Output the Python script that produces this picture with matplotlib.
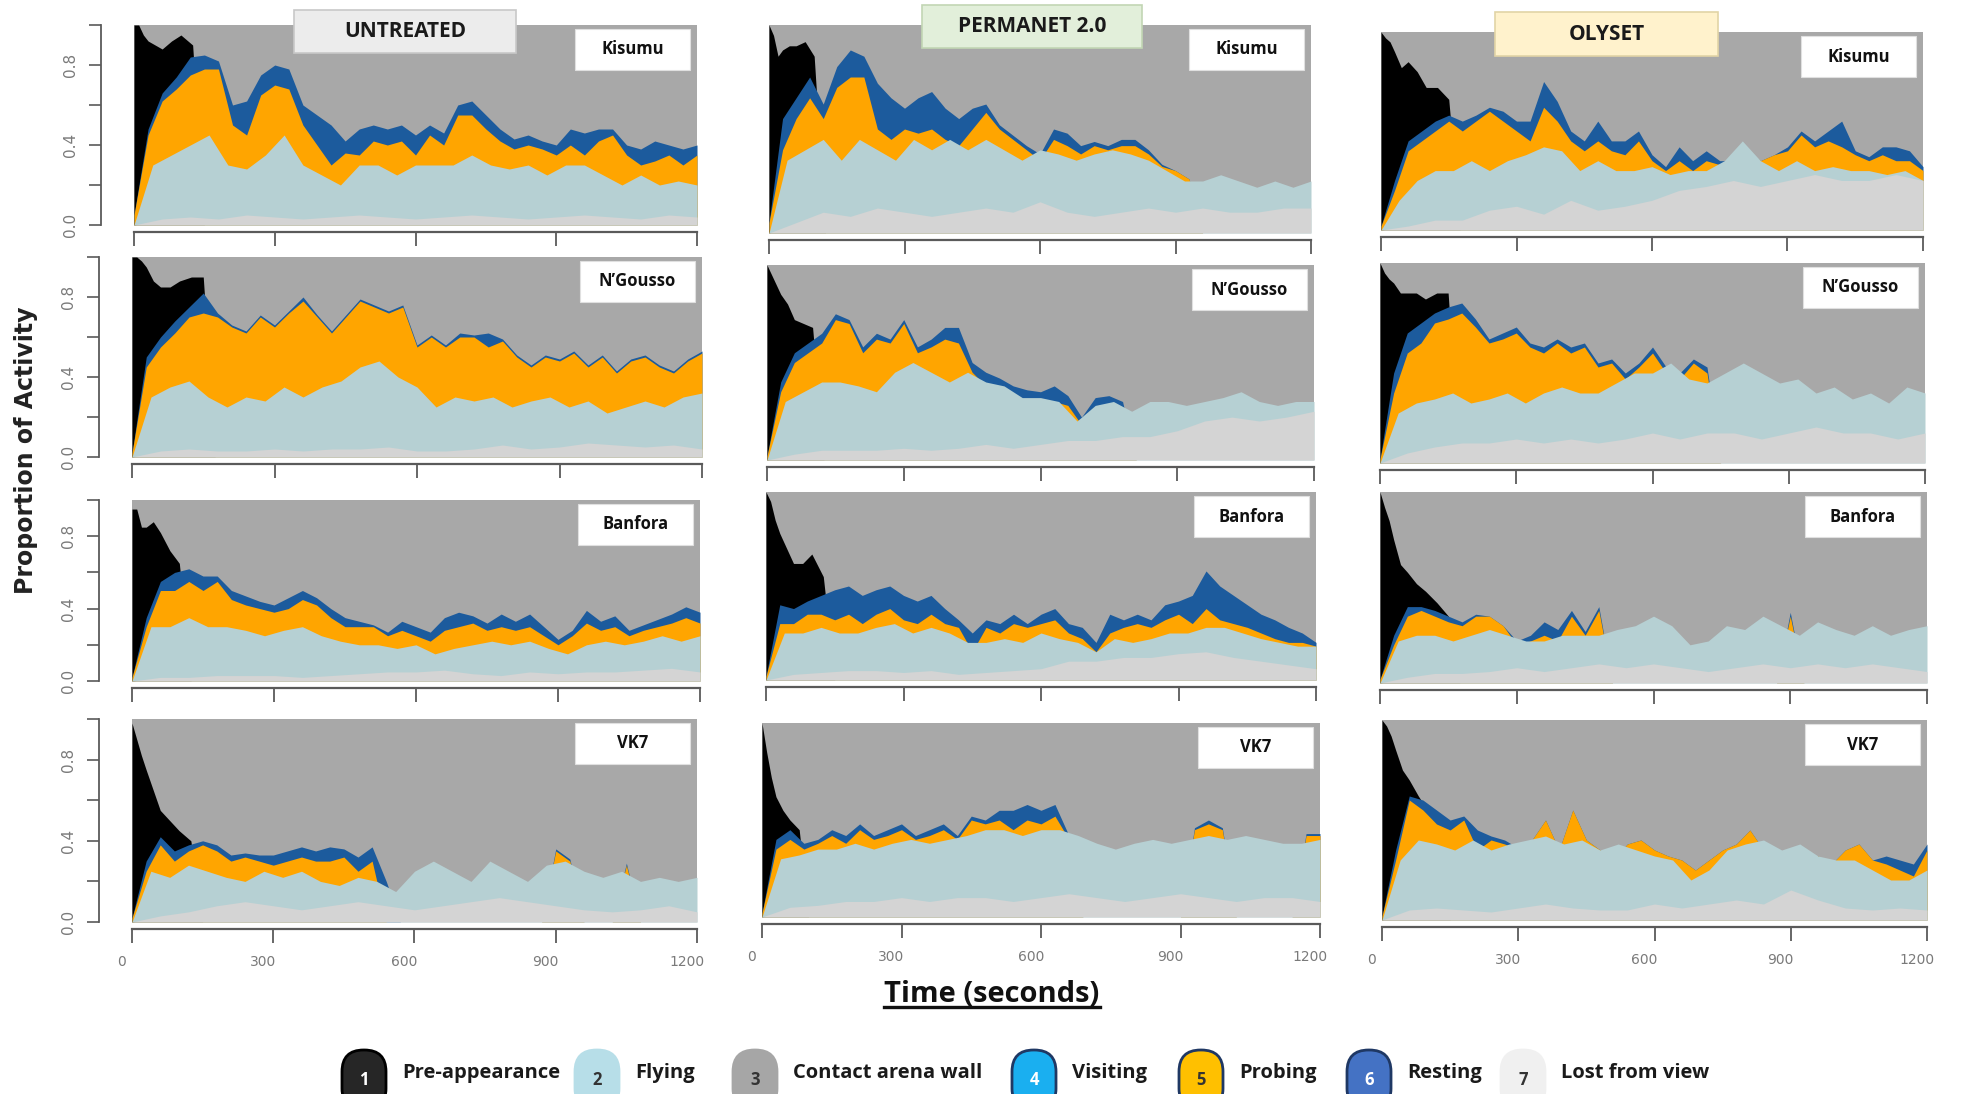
import numpy as np
import matplotlib
matplotlib.use("Agg")
import matplotlib.pyplot as plt
from matplotlib.patches import Rectangle, FancyBboxPatch
from matplotlib.lines import Line2D
from matplotlib.transforms import ScaledTranslation

# ---------------- time grids (seconds) ----------------
T_MAIN = np.arange(0, 1201, 30)   # probing / resting tops
T_FLY = np.arange(0, 1201, 40)    # flying top
T_LOST = np.arange(0, 1201, 60)   # lost-from-view top
T_PRE = [0, 10, 20, 30, 45, 60, 80, 100, 125, 150, 175, 200]  # pre-appearance top
time_ticks = [0, 300, 600, 900, 1200]

treatments = ["UNTREATED", "PERMANET 2.0", "OLYSET"]
strains = ["Kisumu", "N\u2019Gousso", "Banfora", "VK7"]
legend_labels = ["Pre-appearance", "Flying", "Contact arena wall", "Visiting",
                 "Probing", "Resting", "Lost from view"]

# cumulative upper edges of each behaviour band (proportion of mosquitoes)
# ---- UNTREATED ----
untreated_kisumu_pre = [1.0, 1.0, 0.95, 0.92, 0.9, 0.88, 0.92, 0.95, 0.9, 0.0, 0.0, 0.0]
untreated_kisumu_rest = [0.05, 0.48, 0.66, 0.74, 0.84, 0.85, 0.82, 0.6, 0.62, 0.75, 0.8, 0.78, 0.6, 0.55, 0.5, 0.42, 0.48, 0.5, 0.48, 0.5, 0.45, 0.5, 0.46, 0.6, 0.62, 0.55, 0.48, 0.43, 0.45, 0.42, 0.4, 0.48, 0.46, 0.48, 0.48, 0.4, 0.38, 0.42, 0.4, 0.38, 0.4]
untreated_kisumu_probe = [0.05, 0.45, 0.62, 0.68, 0.75, 0.78, 0.78, 0.5, 0.45, 0.65, 0.7, 0.68, 0.5, 0.4, 0.3, 0.36, 0.35, 0.42, 0.4, 0.42, 0.35, 0.45, 0.4, 0.55, 0.55, 0.48, 0.42, 0.38, 0.4, 0.38, 0.35, 0.4, 0.35, 0.42, 0.45, 0.35, 0.3, 0.32, 0.35, 0.3, 0.35]
untreated_kisumu_fly = [0, 0.3, 0.35, 0.4, 0.45, 0.3, 0.28, 0.35, 0.45, 0.3, 0.25, 0.2, 0.3, 0.3, 0.25, 0.3, 0.3, 0.3, 0.35, 0.3, 0.28, 0.3, 0.25, 0.3, 0.3, 0.25, 0.2, 0.25, 0.2, 0.22, 0.2]
untreated_kisumu_lost = [0, 0.03, 0.04, 0.03, 0.05, 0.04, 0.03, 0.04, 0.05, 0.04, 0.03, 0.04, 0.05, 0.04, 0.03, 0.04, 0.05, 0.04, 0.03, 0.05, 0.04]

untreated_ngousso_pre = [1.0, 1.0, 0.98, 0.95, 0.88, 0.85, 0.85, 0.88, 0.9, 0.9, 0.0, 0.0]
untreated_ngousso_rest = [0.02, 0.5, 0.6, 0.68, 0.75, 0.82, 0.72, 0.66, 0.63, 0.71, 0.66, 0.73, 0.8, 0.71, 0.63, 0.71, 0.79, 0.76, 0.73, 0.76, 0.56, 0.61, 0.56, 0.62, 0.61, 0.62, 0.59, 0.51, 0.46, 0.51, 0.49, 0.53, 0.46, 0.51, 0.43, 0.49, 0.51, 0.46, 0.43, 0.49, 0.53]
untreated_ngousso_probe = [0.02, 0.45, 0.55, 0.62, 0.7, 0.72, 0.7, 0.65, 0.62, 0.7, 0.65, 0.72, 0.78, 0.7, 0.62, 0.7, 0.78, 0.75, 0.72, 0.75, 0.55, 0.6, 0.55, 0.6, 0.6, 0.55, 0.58, 0.5, 0.45, 0.5, 0.48, 0.52, 0.45, 0.5, 0.42, 0.48, 0.5, 0.45, 0.42, 0.48, 0.52]
untreated_ngousso_fly = [0, 0.3, 0.35, 0.38, 0.3, 0.25, 0.3, 0.28, 0.35, 0.3, 0.35, 0.38, 0.45, 0.48, 0.4, 0.35, 0.25, 0.3, 0.28, 0.3, 0.25, 0.28, 0.3, 0.25, 0.28, 0.22, 0.25, 0.28, 0.25, 0.3, 0.32]
untreated_ngousso_lost = [0, 0.03, 0.04, 0.03, 0.03, 0.04, 0.03, 0.04, 0.04, 0.05, 0.03, 0.03, 0.04, 0.06, 0.04, 0.05, 0.07, 0.06, 0.05, 0.06, 0.04]

untreated_banfora_pre = [0.95, 0.95, 0.85, 0.85, 0.88, 0.82, 0.72, 0.65, 0.0, 0.0, 0.0, 0.0]
untreated_banfora_rest = [0.02, 0.35, 0.55, 0.6, 0.62, 0.58, 0.58, 0.5, 0.47, 0.44, 0.42, 0.46, 0.5, 0.46, 0.4, 0.35, 0.33, 0.31, 0.27, 0.33, 0.3, 0.27, 0.35, 0.38, 0.36, 0.32, 0.37, 0.33, 0.37, 0.3, 0.23, 0.28, 0.39, 0.33, 0.36, 0.28, 0.31, 0.34, 0.37, 0.41, 0.38]
untreated_banfora_probe = [0.02, 0.3, 0.5, 0.5, 0.55, 0.5, 0.55, 0.45, 0.42, 0.4, 0.38, 0.4, 0.45, 0.42, 0.35, 0.3, 0.3, 0.3, 0.25, 0.28, 0.25, 0.22, 0.28, 0.3, 0.32, 0.28, 0.3, 0.28, 0.3, 0.25, 0.2, 0.25, 0.32, 0.28, 0.3, 0.25, 0.28, 0.3, 0.32, 0.35, 0.32]
untreated_banfora_fly = [0, 0.3, 0.3, 0.35, 0.3, 0.3, 0.28, 0.25, 0.28, 0.3, 0.25, 0.22, 0.2, 0.2, 0.18, 0.2, 0.15, 0.18, 0.2, 0.22, 0.2, 0.22, 0.18, 0.15, 0.2, 0.22, 0.2, 0.22, 0.25, 0.22, 0.25]
untreated_banfora_lost = [0, 0.02, 0.02, 0.03, 0.03, 0.03, 0.02, 0.03, 0.04, 0.05, 0.05, 0.06, 0.04, 0.03, 0.05, 0.04, 0.05, 0.05, 0.06, 0.07, 0.05]

untreated_vk7_pre = [0.98, 0.9, 0.82, 0.75, 0.65, 0.55, 0.5, 0.45, 0.4, 0.0, 0.0, 0.0]
untreated_vk7_rest = [0.02, 0.3, 0.42, 0.35, 0.38, 0.4, 0.38, 0.33, 0.34, 0.33, 0.33, 0.35, 0.37, 0.35, 0.37, 0.36, 0.32, 0.37, 0.2, 0, 0, 0, 0, 0, 0, 0, 0, 0, 0, 0, 0.36, 0.31, 0, 0, 0, 0.29, 0, 0, 0, 0, 0]
untreated_vk7_probe = [0.02, 0.25, 0.38, 0.3, 0.35, 0.38, 0.35, 0.3, 0.32, 0.3, 0.28, 0.3, 0.32, 0.3, 0.3, 0.32, 0.25, 0.3, 0, 0, 0, 0, 0, 0, 0, 0, 0, 0, 0, 0, 0.35, 0.3, 0, 0, 0, 0.28, 0, 0, 0, 0, 0]
untreated_vk7_fly = [0, 0.25, 0.22, 0.28, 0.25, 0.22, 0.2, 0.25, 0.22, 0.25, 0.2, 0.18, 0.22, 0.2, 0.15, 0.25, 0.3, 0.25, 0.2, 0.3, 0.25, 0.2, 0.28, 0.3, 0.25, 0.22, 0.25, 0.2, 0.22, 0.2, 0.22]
untreated_vk7_lost = [0, 0.03, 0.05, 0.08, 0.1, 0.08, 0.06, 0.08, 0.1, 0.08, 0.06, 0.08, 0.1, 0.12, 0.1, 0.08, 0.06, 0.05, 0.06, 0.08, 0.05]

# ---- PERMANET 2.0 ----
permanet_kisumu_pre = [1.0, 0.95, 0.85, 0.88, 0.9, 0.9, 0.92, 0.85, 0.0, 0.0, 0.0, 0.0]
permanet_kisumu_rest = [0.05, 0.55, 0.65, 0.75, 0.62, 0.8, 0.88, 0.85, 0.72, 0.65, 0.6, 0.65, 0.68, 0.6, 0.55, 0.6, 0.62, 0.52, 0.47, 0.42, 0.38, 0.5, 0.48, 0.42, 0.44, 0.42, 0.45, 0.45, 0.4, 0.33, 0.3, 0.26, 0, 0, 0, 0, 0, 0, 0, 0, 0]
permanet_kisumu_probe = [0.05, 0.4, 0.55, 0.65, 0.55, 0.7, 0.75, 0.75, 0.5, 0.45, 0.5, 0.48, 0.5, 0.45, 0.42, 0.5, 0.58, 0.5, 0.45, 0.4, 0.35, 0.45, 0.42, 0.38, 0.42, 0.4, 0.42, 0.42, 0.38, 0.32, 0.3, 0.26, 0, 0, 0, 0, 0, 0, 0, 0, 0]
permanet_kisumu_fly = [0, 0.35, 0.4, 0.45, 0.35, 0.45, 0.4, 0.35, 0.45, 0.4, 0.45, 0.4, 0.45, 0.4, 0.35, 0.4, 0.38, 0.35, 0.38, 0.4, 0.38, 0.35, 0.3, 0.25, 0.25, 0.28, 0.25, 0.22, 0.25, 0.22, 0.25]
permanet_kisumu_lost = [0, 0.05, 0.1, 0.08, 0.12, 0.1, 0.08, 0.1, 0.12, 0.1, 0.15, 0.1, 0.08, 0.1, 0.12, 0.1, 0.12, 0.1, 0.1, 0.12, 0.12]

permanet_ngousso_pre = [1.0, 0.95, 0.9, 0.85, 0.8, 0.72, 0.7, 0.68, 0.0, 0.0, 0.0, 0.0]
permanet_ngousso_rest = [0.02, 0.4, 0.55, 0.6, 0.65, 0.75, 0.72, 0.58, 0.65, 0.62, 0.72, 0.58, 0.62, 0.68, 0.68, 0.5, 0.45, 0.42, 0.38, 0.36, 0.35, 0.38, 0.33, 0.22, 0.32, 0.33, 0.3, 0, 0, 0, 0, 0, 0, 0, 0, 0, 0, 0, 0, 0, 0]
permanet_ngousso_probe = [0.02, 0.35, 0.5, 0.55, 0.6, 0.72, 0.7, 0.55, 0.62, 0.6, 0.7, 0.55, 0.58, 0.62, 0.6, 0.45, 0.38, 0.35, 0.3, 0.3, 0.3, 0.3, 0.28, 0.18, 0.26, 0.28, 0.26, 0, 0, 0, 0, 0, 0, 0, 0, 0, 0, 0, 0, 0, 0]
permanet_ngousso_fly = [0, 0.3, 0.35, 0.4, 0.4, 0.38, 0.35, 0.45, 0.5, 0.45, 0.4, 0.45, 0.4, 0.38, 0.32, 0.32, 0.3, 0.2, 0.28, 0.3, 0.25, 0.3, 0.3, 0.28, 0.3, 0.32, 0.35, 0.3, 0.28, 0.3, 0.3]
permanet_ngousso_lost = [0, 0.03, 0.05, 0.05, 0.05, 0.06, 0.05, 0.06, 0.08, 0.06, 0.08, 0.1, 0.1, 0.12, 0.12, 0.15, 0.2, 0.22, 0.2, 0.22, 0.25]

permanet_banfora_pre = [1.0, 0.95, 0.85, 0.78, 0.7, 0.62, 0.62, 0.67, 0.55, 0.0, 0.0, 0.0]
permanet_banfora_rest = [0.02, 0.4, 0.38, 0.42, 0.45, 0.48, 0.5, 0.45, 0.48, 0.5, 0.45, 0.42, 0.45, 0.38, 0.32, 0.25, 0.32, 0.3, 0.35, 0.3, 0.35, 0.38, 0.3, 0.28, 0.2, 0.35, 0.32, 0.35, 0.32, 0.4, 0.42, 0.45, 0.58, 0.5, 0.45, 0.4, 0.35, 0.32, 0.28, 0.25, 0.2]
permanet_banfora_probe = [0.02, 0.3, 0.3, 0.35, 0.35, 0.32, 0.35, 0.3, 0.35, 0.38, 0.32, 0.3, 0.35, 0.3, 0.28, 0.15, 0.28, 0.25, 0.3, 0.28, 0.3, 0.32, 0.25, 0.22, 0.15, 0.25, 0.28, 0.3, 0.28, 0.32, 0.35, 0.3, 0.38, 0.32, 0.3, 0.28, 0.25, 0.22, 0.2, 0.2, 0.18]
permanet_banfora_fly = [0, 0.25, 0.25, 0.28, 0.25, 0.25, 0.28, 0.3, 0.25, 0.28, 0.25, 0.2, 0.2, 0.22, 0.2, 0.25, 0.22, 0.2, 0.15, 0.22, 0.2, 0.22, 0.25, 0.25, 0.28, 0.28, 0.25, 0.22, 0.2, 0.18, 0.18]
permanet_banfora_lost = [0, 0.03, 0.04, 0.05, 0.05, 0.04, 0.05, 0.03, 0.04, 0.05, 0.06, 0.1, 0.1, 0.12, 0.12, 0.14, 0.15, 0.12, 0.1, 0.08, 0.06]

permanet_vk7_pre = [1.0, 0.85, 0.72, 0.62, 0.55, 0.5, 0.45, 0.0, 0.0, 0.0, 0.0, 0.0]
permanet_vk7_rest = [0.02, 0.4, 0.45, 0.38, 0.4, 0.45, 0.42, 0.48, 0.42, 0.45, 0.48, 0.42, 0.45, 0.48, 0.42, 0.52, 0.5, 0.55, 0.55, 0.58, 0.55, 0.58, 0.42, 0, 0, 0, 0, 0, 0, 0, 0, 0.46, 0.5, 0.46, 0, 0, 0, 0, 0, 0.43, 0.43]
permanet_vk7_probe = [0.02, 0.35, 0.4, 0.35, 0.38, 0.42, 0.38, 0.45, 0.4, 0.42, 0.45, 0.4, 0.42, 0.45, 0.4, 0.5, 0.48, 0.5, 0.45, 0.5, 0.48, 0.52, 0.4, 0, 0, 0, 0, 0, 0, 0, 0, 0.45, 0.48, 0.45, 0, 0, 0, 0, 0, 0.42, 0.42]
permanet_vk7_fly = [0, 0.3, 0.32, 0.35, 0.35, 0.38, 0.35, 0.38, 0.4, 0.38, 0.4, 0.42, 0.45, 0.45, 0.42, 0.45, 0.45, 0.42, 0.38, 0.35, 0.38, 0.4, 0.38, 0.4, 0.42, 0.4, 0.42, 0.4, 0.38, 0.38, 0.4]
permanet_vk7_lost = [0, 0.05, 0.06, 0.08, 0.08, 0.1, 0.08, 0.1, 0.1, 0.08, 0.1, 0.12, 0.1, 0.08, 0.1, 0.12, 0.1, 0.08, 0.1, 0.1, 0.08]

# ---- OLYSET ----
olyset_kisumu_pre = [1.0, 0.97, 0.95, 0.9, 0.82, 0.85, 0.8, 0.72, 0.72, 0.66, 0.0, 0.0]
olyset_kisumu_rest = [0.02, 0.25, 0.45, 0.5, 0.55, 0.58, 0.55, 0.58, 0.62, 0.6, 0.55, 0.55, 0.75, 0.65, 0.5, 0.45, 0.55, 0.45, 0.45, 0.5, 0.38, 0.32, 0.42, 0.35, 0.4, 0.35, 0.35, 0.4, 0.35, 0.38, 0.42, 0.5, 0.45, 0.5, 0.55, 0.4, 0.37, 0.42, 0.42, 0.4, 0.32]
olyset_kisumu_probe = [0.02, 0.2, 0.4, 0.45, 0.5, 0.55, 0.5, 0.55, 0.6, 0.55, 0.5, 0.45, 0.62, 0.55, 0.45, 0.4, 0.45, 0.4, 0.38, 0.45, 0.35, 0.3, 0.35, 0.3, 0.35, 0.33, 0.35, 0.4, 0.35, 0.38, 0.4, 0.48, 0.42, 0.45, 0.42, 0.38, 0.35, 0.38, 0.35, 0.35, 0.3]
olyset_kisumu_fly = [0, 0.15, 0.25, 0.3, 0.3, 0.35, 0.3, 0.35, 0.38, 0.42, 0.4, 0.3, 0.35, 0.3, 0.3, 0.32, 0.28, 0.3, 0.3, 0.35, 0.45, 0.35, 0.3, 0.35, 0.3, 0.32, 0.3, 0.3, 0.28, 0.3, 0.25]
olyset_kisumu_lost = [0, 0.02, 0.05, 0.05, 0.1, 0.12, 0.08, 0.15, 0.1, 0.12, 0.15, 0.2, 0.22, 0.25, 0.22, 0.25, 0.28, 0.25, 0.25, 0.28, 0.25]

olyset_ngousso_pre = [1.0, 0.95, 0.92, 0.9, 0.85, 0.85, 0.85, 0.82, 0.85, 0.85, 0.0, 0.0]
olyset_ngousso_rest = [0.02, 0.45, 0.65, 0.7, 0.75, 0.78, 0.8, 0.72, 0.62, 0.65, 0.68, 0.6, 0.58, 0.62, 0.58, 0.6, 0.5, 0.52, 0.45, 0.5, 0.58, 0.48, 0.45, 0.52, 0.48, 0, 0, 0, 0, 0, 0, 0, 0, 0, 0, 0, 0, 0, 0, 0, 0]
olyset_ngousso_probe = [0.02, 0.35, 0.55, 0.6, 0.7, 0.72, 0.75, 0.68, 0.6, 0.62, 0.65, 0.58, 0.55, 0.6, 0.55, 0.58, 0.48, 0.5, 0.42, 0.48, 0.55, 0.45, 0.42, 0.5, 0.45, 0, 0, 0, 0, 0, 0, 0, 0, 0, 0, 0, 0, 0, 0, 0, 0]
olyset_ngousso_fly = [0, 0.25, 0.3, 0.32, 0.35, 0.3, 0.32, 0.35, 0.3, 0.35, 0.38, 0.35, 0.35, 0.4, 0.45, 0.45, 0.5, 0.42, 0.4, 0.45, 0.5, 0.45, 0.4, 0.42, 0.35, 0.38, 0.32, 0.35, 0.3, 0.38, 0.35]
olyset_ngousso_lost = [0, 0.05, 0.08, 0.1, 0.1, 0.12, 0.1, 0.12, 0.1, 0.12, 0.15, 0.12, 0.15, 0.15, 0.12, 0.15, 0.18, 0.15, 0.15, 0.12, 0.15]

olyset_banfora_pre = [1.0, 0.92, 0.85, 0.75, 0.62, 0.58, 0.52, 0.48, 0.42, 0.35, 0.0, 0.0]
olyset_banfora_rest = [0.02, 0.25, 0.4, 0.4, 0.38, 0.35, 0.32, 0.36, 0.35, 0.3, 0.22, 0.25, 0.32, 0.28, 0.38, 0.27, 0.4, 0, 0, 0, 0, 0, 0, 0, 0, 0, 0, 0, 0, 0, 0.37, 0, 0, 0, 0, 0, 0, 0, 0, 0, 0]
olyset_banfora_probe = [0.02, 0.2, 0.35, 0.38, 0.35, 0.32, 0.3, 0.35, 0.35, 0.3, 0.2, 0.22, 0.25, 0.22, 0.35, 0.25, 0.38, 0, 0, 0, 0, 0, 0, 0, 0, 0, 0, 0, 0, 0, 0.35, 0, 0, 0, 0, 0, 0, 0, 0, 0, 0]
olyset_banfora_fly = [0, 0.22, 0.25, 0.25, 0.22, 0.25, 0.28, 0.25, 0.22, 0.22, 0.25, 0.25, 0.25, 0.28, 0.3, 0.35, 0.3, 0.2, 0.22, 0.3, 0.28, 0.35, 0.3, 0.25, 0.32, 0.28, 0.25, 0.3, 0.25, 0.28, 0.3]
olyset_banfora_lost = [0, 0.03, 0.05, 0.05, 0.06, 0.08, 0.06, 0.08, 0.1, 0.08, 0.1, 0.08, 0.06, 0.08, 0.1, 0.08, 0.1, 0.08, 0.1, 0.08, 0.06]

olyset_vk7_pre = [1.0, 0.97, 0.92, 0.85, 0.75, 0.7, 0.62, 0.55, 0.5, 0.0, 0.0, 0.0]
olyset_vk7_rest = [0.02, 0.35, 0.62, 0.6, 0.55, 0.5, 0.52, 0.45, 0.42, 0.4, 0.36, 0.4, 0.5, 0.35, 0.55, 0.4, 0.35, 0.3, 0.38, 0.4, 0.35, 0.32, 0.3, 0.25, 0.3, 0.35, 0.38, 0.45, 0.35, 0.3, 0.35, 0.3, 0.32, 0.28, 0.35, 0.38, 0.3, 0.32, 0.3, 0.28, 0.38]
olyset_vk7_probe = [0.02, 0.3, 0.6, 0.55, 0.48, 0.45, 0.5, 0.35, 0.4, 0.38, 0.35, 0.4, 0.5, 0.35, 0.55, 0.4, 0.35, 0.3, 0.38, 0.4, 0.35, 0.32, 0.3, 0.25, 0.3, 0.35, 0.38, 0.45, 0.35, 0.3, 0.35, 0.3, 0.32, 0.28, 0.35, 0.38, 0.3, 0.28, 0.25, 0.22, 0.35]
olyset_vk7_fly = [0, 0.3, 0.4, 0.38, 0.35, 0.4, 0.35, 0.38, 0.4, 0.42, 0.38, 0.4, 0.35, 0.38, 0.35, 0.32, 0.3, 0.2, 0.25, 0.35, 0.38, 0.4, 0.35, 0.38, 0.32, 0.3, 0.3, 0.25, 0.2, 0.2, 0.25]
olyset_vk7_lost = [0, 0.05, 0.06, 0.05, 0.04, 0.06, 0.08, 0.06, 0.05, 0.05, 0.08, 0.06, 0.08, 0.1, 0.08, 0.15, 0.1, 0.06, 0.05, 0.06, 0.05]

DATA = {
    ("UNTREATED", 0): (untreated_kisumu_pre, untreated_kisumu_rest, untreated_kisumu_probe, untreated_kisumu_fly, untreated_kisumu_lost),
    ("UNTREATED", 1): (untreated_ngousso_pre, untreated_ngousso_rest, untreated_ngousso_probe, untreated_ngousso_fly, untreated_ngousso_lost),
    ("UNTREATED", 2): (untreated_banfora_pre, untreated_banfora_rest, untreated_banfora_probe, untreated_banfora_fly, untreated_banfora_lost),
    ("UNTREATED", 3): (untreated_vk7_pre, untreated_vk7_rest, untreated_vk7_probe, untreated_vk7_fly, untreated_vk7_lost),
    ("PERMANET 2.0", 0): (permanet_kisumu_pre, permanet_kisumu_rest, permanet_kisumu_probe, permanet_kisumu_fly, permanet_kisumu_lost),
    ("PERMANET 2.0", 1): (permanet_ngousso_pre, permanet_ngousso_rest, permanet_ngousso_probe, permanet_ngousso_fly, permanet_ngousso_lost),
    ("PERMANET 2.0", 2): (permanet_banfora_pre, permanet_banfora_rest, permanet_banfora_probe, permanet_banfora_fly, permanet_banfora_lost),
    ("PERMANET 2.0", 3): (permanet_vk7_pre, permanet_vk7_rest, permanet_vk7_probe, permanet_vk7_fly, permanet_vk7_lost),
    ("OLYSET", 0): (olyset_kisumu_pre, olyset_kisumu_rest, olyset_kisumu_probe, olyset_kisumu_fly, olyset_kisumu_lost),
    ("OLYSET", 1): (olyset_ngousso_pre, olyset_ngousso_rest, olyset_ngousso_probe, olyset_ngousso_fly, olyset_ngousso_lost),
    ("OLYSET", 2): (olyset_banfora_pre, olyset_banfora_rest, olyset_banfora_probe, olyset_banfora_fly, olyset_banfora_lost),
    ("OLYSET", 3): (olyset_vk7_pre, olyset_vk7_rest, olyset_vk7_probe, olyset_vk7_fly, olyset_vk7_lost),
}

# ---------------- styling ----------------
C_WALL = "#a8a8a8"
C_PRE = "#000000"
C_REST = "#1c5b9d"
C_PROBE = "#ffa500"
C_FLY = "#b6d0d3"
C_LOST = "#d4d4d4"

W, H = 1962, 1094
fig = plt.figure(figsize=(W / 100, H / 100), dpi=100)
fig.patch.set_facecolor("white")


def fx(x):
    return x / W


def fy(y):
    return 1 - y / H


# panel rectangles in pixels (x0, x1, ytop, ybottom), by [row][col]
PANEL_PX = [
    [(134, 697, 25, 225), (769, 1311, 25, 233), (1381, 1923, 32, 230)],
    [(132, 702, 257, 457), (767, 1314, 265, 460), (1380, 1925, 263, 463)],
    [(132, 700, 500, 681), (766, 1316, 492, 680), (1380, 1927, 492, 683)],
    [(132, 697, 719, 922), (762, 1320, 723, 917), (1382, 1927, 720, 920)],
]

TITLE_BOX = {
    "UNTREATED": ((294, 10, 516, 53), "#ececec", "#c8c8c8"),
    "PERMANET 2.0": ((922, 5, 1142, 48), "#e2efda", "#c2d6b4"),
    "OLYSET": ((1495, 12, 1718, 56), "#fff2cc", "#e2d4a6"),
}

tick_font = "DejaVu Sans"
label_font = "Open Sans"

for c, tr in enumerate(treatments):
    for r, st in enumerate(strains):
        x0, x1, yt, yb = PANEL_PX[r][c]
        ax = fig.add_axes([fx(x0), fy(yb), (x1 - x0) / W, (yb - yt) / H])
        ax.set_facecolor(C_WALL)
        pre, rest, probe, fly, lost = DATA[(tr, r)]
        ax.fill_between(T_PRE, 0, pre, color=C_PRE, lw=0)
        ax.fill_between(T_MAIN, 0, rest, color=C_REST, lw=0)
        ax.fill_between(T_MAIN, 0, probe, color=C_PROBE, lw=0)
        ax.fill_between(T_FLY, 0, fly, color=C_FLY, lw=0)
        ax.fill_between(T_LOST, 0, lost, color=C_LOST, lw=0)
        ax.set_xlim(0, 1200)
        ax.set_ylim(0, 1)
        for s in ("top", "right"):
            ax.spines[s].set_visible(False)
        ax.spines["bottom"].set_position(("outward", 5))
        ax.spines["bottom"].set_color("#5a5a5a")
        ax.spines["bottom"].set_linewidth(1.6)
        ax.set_xticks(time_ticks)
        ax.tick_params(axis="x", length=10, width=1.3, color="#5a5a5a",
                       labelsize=10, labelcolor="#7a7a7a", pad=9)
        if r < 3:
            ax.set_xticklabels([])
        else:
            ax.set_xticklabels([str(t) for t in time_ticks], fontfamily=tick_font)
            for lab in ax.get_xticklabels():
                lab.set_transform(lab.get_transform() +
                                  ScaledTranslation(-10 / 100, 0, fig.dpi_scale_trans))
        if c == 0:
            ax.spines["left"].set_position(("outward", 24))
            ax.spines["left"].set_color("#5a5a5a")
            ax.spines["left"].set_linewidth(1.3)
            ax.spines["left"].set_bounds(0, 1)
            ax.set_yticks([0, 0.2, 0.4, 0.6, 0.8, 1.0])
            ax.set_yticklabels(["0.0", "", "0.4", "", "0.8", ""],
                               rotation=90, va="center", fontfamily=tick_font)
            ax.tick_params(axis="y", length=9, width=1.2, color="#5a5a5a",
                           labelsize=11, labelcolor="#7a7a7a", pad=7)
        else:
            ax.spines["left"].set_visible(False)
            ax.set_yticks([])

        # strain label box (top-right inside panel)
        bw, bh = 115, 41
        bx1 = x1 - 7
        by0 = yt + 4
        fig.add_artist(Rectangle((fx(bx1 - bw), fy(by0 + bh)), bw / W, bh / H,
                                 transform=fig.transFigure, facecolor="white",
                                 edgecolor="#e0e0e0", lw=0.8))
        fig.text(fx(bx1 - bw / 2), fy(by0 + bh / 2), st, ha="center", va="center",
                 fontsize=12, fontweight="bold", fontfamily=label_font, color="#111111")

# treatment title boxes
for tr in treatments:
    (bx0, by0, bx1, by1), fc, ec = TITLE_BOX[tr]
    fig.add_artist(Rectangle((fx(bx0), fy(by1)), (bx1 - bx0) / W, (by1 - by0) / H,
                             transform=fig.transFigure, facecolor=fc, edgecolor=ec, lw=1.2))
    fig.text(fx((bx0 + bx1) / 2), fy((by0 + by1) / 2), tr, ha="center", va="center",
             fontsize=15, fontweight="bold", fontfamily=label_font, color="#1a1a1a")

# axis titles
fig.text(fx(26), fy(450), "Proportion of Activity", rotation=90, ha="center", va="center",
         fontsize=17, fontweight="bold", fontfamily="DejaVu Sans", color="#222222")
xl = fig.text(fx(992), fy(994), "Time (seconds)", ha="center", va="center",
              fontsize=21, fontweight="bold", fontfamily=label_font, color="#111111")
fig.canvas.draw()
bb = xl.get_window_extent(fig.canvas.get_renderer())
inv = fig.transFigure.inverted()
(ux0, uy0), (ux1, _) = inv.transform([(bb.x0, bb.y0 + 2), (bb.x1, bb.y0 + 2)])
fig.add_artist(Line2D([ux0, ux1], [uy0, uy0], transform=fig.transFigure,
                      color="#111111", lw=2.4))

# legend
leg_box_cx = [364, 597, 755, 1034, 1201, 1369, 1523]
leg_fc = ["#262626", "#b7dee8", "#a6a6a6", "#1aaff0", "#ffc000", "#4472c4", "#f0f0f0"]
leg_ec = ["#000000", "#b7dee8", "#a6a6a6", "#1f3864", "#1f3864", "#1f3864", "#f0f0f0"]
leg_num_c = ["white", "#333333", "#333333", "white", "#333333", "white", "#333333"]
for i, lab in enumerate(legend_labels):
    cx = leg_box_cx[i]
    fig.add_artist(FancyBboxPatch((fx(cx - 22), fy(1110)), 44 / W, 60 / H,
                                  boxstyle="round,pad=0,rounding_size=0.011",
                                  transform=fig.transFigure, facecolor=leg_fc[i],
                                  edgecolor=leg_ec[i], lw=2, mutation_aspect=W / H))
    fig.text(fx(cx), fy(1080), str(i + 1), ha="center", va="center", fontsize=12,
             fontweight="bold", fontfamily=label_font, color=leg_num_c[i])
    fig.text(fx(cx + 38), fy(1073), lab, ha="left", va="center", fontsize=14.5,
             fontweight="bold", fontfamily=label_font, color="#1a1a1a")

fig.savefig("out.png", dpi=100, facecolor="white")
